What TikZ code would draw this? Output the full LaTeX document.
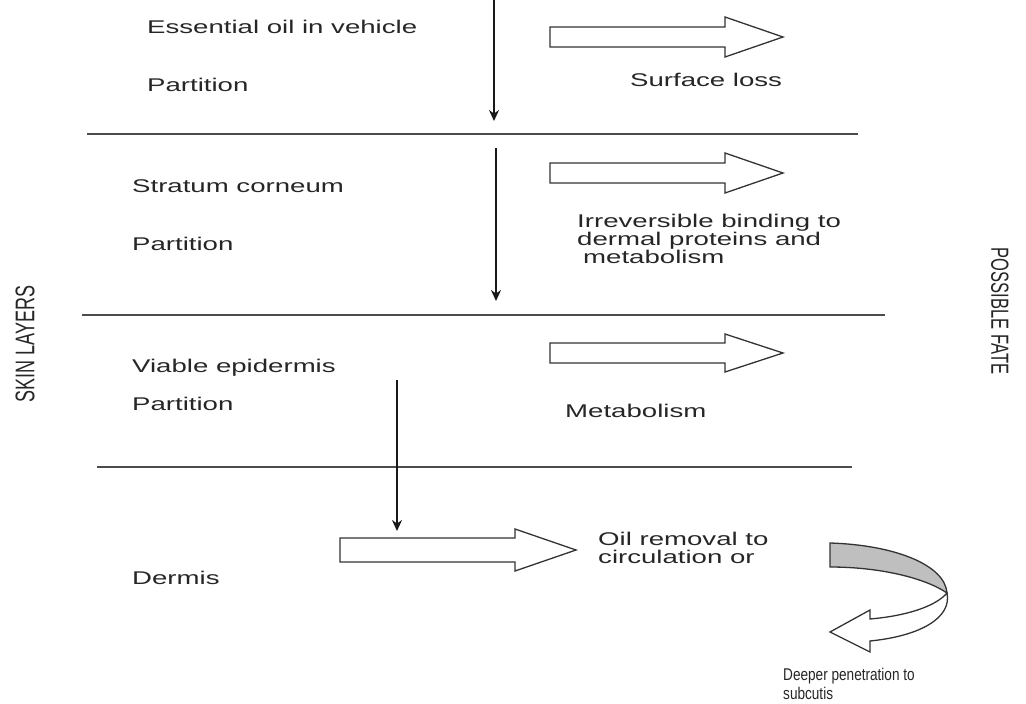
\documentclass[tikz,border=0pt]{standalone}
\usepackage{fontspec}
\setmainfont{Liberation Sans}[FakeStretch=1.5]
\newfontfamily\rotfont{Liberation Sans}
\newfontfamily\narrowfont{Liberation Sans}[FakeStretch=0.8]
\usetikzlibrary{arrows.meta}
\newcommand{\blockarrow}[6]{% x1, xhead, xtip, yc, body half, head half
  \draw[barrow] (#1,#4-#5) -- (#2,#4-#5) -- (#2,#4-#6) -- (#3,#4) -- (#2,#4+#6) -- (#2,#4+#5) -- (#1,#4+#5) -- cycle;}
\begin{document}
\begin{tikzpicture}[x=1pt,y=-1pt,
  txt/.style={anchor=base west, inner sep=0pt, font=\fontsize{18.4}{18}\selectfont, text=black!85},
  smalltxt/.style={anchor=base west, inner sep=0pt, font=\narrowfont\fontsize{17}{18}\selectfont, text=black!85},
  rot/.style={inner sep=0pt, text=black!85},
  sepline/.style={draw=black!70, line width=1.4pt},
  varrow/.style={draw=black!90, line width=1.6pt, -{Stealth[length=11pt,width=10pt]}},
  barrow/.style={draw=black!80, line width=1.3pt, fill=white, line join=miter}]
\useasboundingbox (0,0) rectangle (1026,704);

% layer separators
\draw[sepline] (87,134) -- (858,134);
\draw[sepline] (82,315) -- (885,315);
\draw[sepline] (97,467) -- (852,467);

% side labels
\node[rot, rotate=90] (skin) at (25,344) {\scalebox{1}[1.5]{\rotfont\fontsize{18}{18}\selectfont SKIN LAYERS}};
\node[rot, rotate=-90] (fate) at (1000,311) {\scalebox{1}[1.5]{\rotfont\fontsize{16.5}{18}\selectfont POSSIBLE FATE}};

% texts
\node[txt] (t1) at (147,33) {Essential oil in vehicle};
\node[txt] (t2) at (147,91) {Partition};
\node[txt] (t3) at (630,86) {Surface loss};
\node[txt] (t4) at (132,192) {Stratum corneum};
\node[txt] (t5) at (132,250) {Partition};
\node[txt] (t6a) at (577,227) {Irreversible binding to};
\node[txt] (t6b) at (577,245) {dermal proteins and};
\node[txt] (t6c) at (583,263) {metabolism};
\node[txt] (t7) at (132,372) {Viable epidermis};
\node[txt] (t8) at (132,410) {Partition};
\node[txt] (t9) at (565,417) {Metabolism};
\node[txt] (t10) at (132,584) {Dermis};
\node[txt] (t11a) at (598,545) {Oil removal to};
\node[txt] (t11b) at (598,563) {circulation or};
\node[smalltxt] (t12a) at (783,680) {Deeper penetration to};
\node[smalltxt] (t12b) at (783,699) {subcutis};

% vertical arrows
\coordinate (v1s) at (494,0);
\coordinate (v1e) at (494,121);
\coordinate (v2s) at (496,148);
\coordinate (v2e) at (496,301);
\coordinate (v3s) at (397,380);
\coordinate (v3e) at (397,531);
\draw[varrow] (v1s) -- (v1e);
\draw[varrow] (v2s) -- (v2e);
\draw[varrow] (v3s) -- (v3e);

% block arrows
\blockarrow{550}{725}{783}{37}{10}{20}
\blockarrow{550}{725}{783}{173}{10}{20}
\blockarrow{550}{725}{783}{353}{10}{19}
\blockarrow{340}{515}{576}{550}{12}{21}

% curved arrow
\draw[barrow, fill=black!25] (830,543) .. controls (895,545) and (945,565) .. (947,593)
  .. controls (925,578) and (880,567) .. (830,567) -- cycle;
\draw[barrow] (947,593) .. controls (935,607) and (905,616) .. (870,619)
  -- (870,610) -- (830,632) -- (870,652) -- (870,641)
  .. controls (920,636) and (952,618) .. (947,593) -- cycle;
\end{tikzpicture}
\end{document}
